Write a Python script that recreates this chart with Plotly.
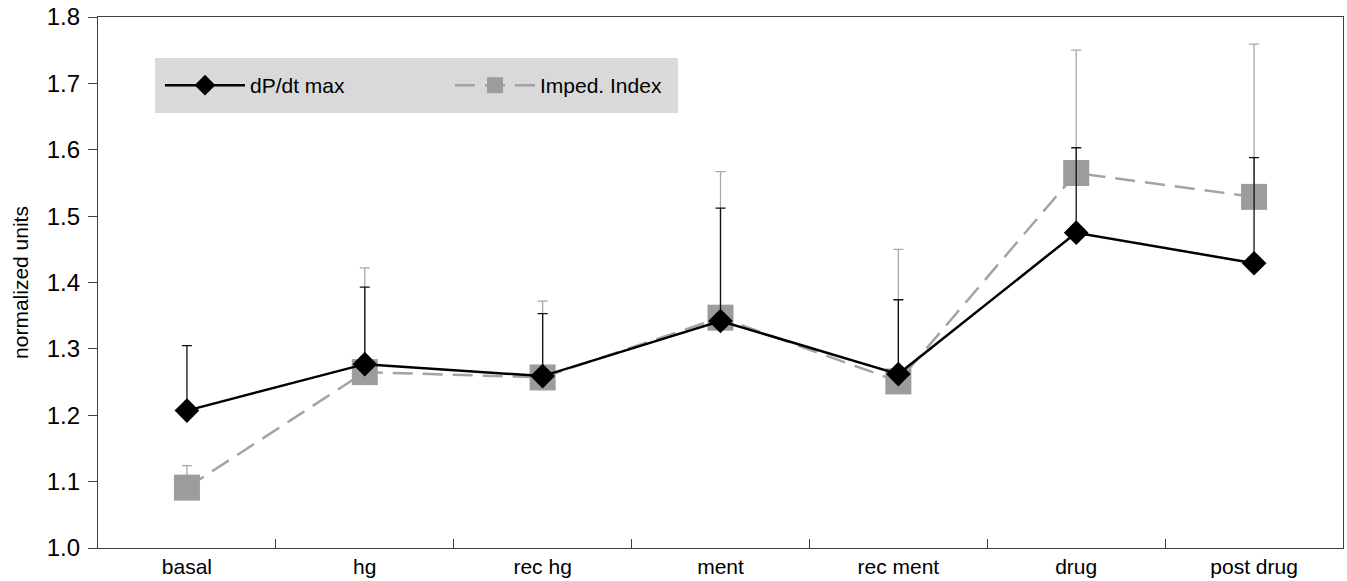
import plotly.graph_objects as go

categories = ["basal", "hg", "rec hg", "ment", "rec ment", "drug", "post drug"]
dpdt_max = [1.207, 1.277, 1.259, 1.342, 1.262, 1.475, 1.429]
dpdt_err = [0.098, 0.116, 0.094, 0.170, 0.112, 0.128, 0.159]
imped_index = [1.091, 1.265, 1.257, 1.347, 1.251, 1.565, 1.529]
imped_err = [0.033, 0.157, 0.115, 0.220, 0.199, 0.185, 0.230]
y_ticks = [1.0, 1.1, 1.2, 1.3, 1.4, 1.5, 1.6, 1.7, 1.8]

FONT = "Liberation Sans, Arial, sans-serif"

fig = go.Figure()

fig.add_trace(go.Scatter(
    x=categories, y=imped_index, name="Imped. Index", mode="lines+markers",
    line=dict(color="#a3a3a3", width=2.5, dash="20px,10px"),
    marker=dict(symbol="square", size=26, color="#9c9c9c"),
    error_y=dict(type="data", symmetric=False, array=imped_err,
                 arrayminus=[0] * len(imped_err), color="#a8a8a8",
                 thickness=1.3, width=5),
    legendrank=2,
))

fig.add_trace(go.Scatter(
    x=categories, y=dpdt_max, name="dP/dt max", mode="lines+markers",
    line=dict(color="#000000", width=2.5),
    marker=dict(symbol="diamond", size=19, color="#000000"),
    error_y=dict(type="data", symmetric=False, array=dpdt_err,
                 arrayminus=[0] * len(dpdt_err), color="#111111",
                 thickness=1.3, width=5),
    legendrank=1,
))

# gray legend panel
fig.add_shape(type="rect", xref="paper", yref="paper",
              x0=0.0458, x1=0.4659, y0=0.8192, y1=0.9228,
              fillcolor="#d9d9d9", line=dict(width=0), layer="below")

fig.update_layout(
    width=1347, height=581,
    margin=dict(l=98, r=4, t=17, b=33),
    plot_bgcolor="white", paper_bgcolor="white",
    font=dict(family=FONT, color="#000000"),
    showlegend=True,
    legend=dict(
        orientation="h", x=0.0498, y=0.871, xanchor="left", yanchor="middle",
        bgcolor="rgba(0,0,0,0)", font=dict(size=21, family=FONT),
        entrywidth=195, entrywidthmode="pixels",
        itemwidth=80,
    ),
    xaxis=dict(
        type="category", range=[-0.5, 6.5],
        showline=True, linecolor="#404040", linewidth=1.3, mirror=True,
        ticks="inside", tickson="boundaries", ticklen=9, tickcolor="#404040",
        tickwidth=1.3, automargin=False,
        showgrid=False, zeroline=False,
        tickfont=dict(size=21, family=FONT),
    ),
    yaxis=dict(
        range=[1.0, 1.8], tickvals=y_ticks, tickformat=".1f",
        showline=True, linecolor="#404040", linewidth=1.3, mirror=True,
        ticks="outside", ticklen=9, tickcolor="#404040", tickwidth=1.3,
        ticklabelstandoff=3, automargin=False,
        showgrid=False, zeroline=False,
        tickfont=dict(size=24, family=FONT),
        title=dict(text="normalized units", font=dict(size=21, family=FONT), standoff=12),
    ),
)

fig.write_html("out.html", config={"displayModeBar": False},
               post_script="document.body.style.margin='0';document.body.style.overflow='hidden';")
